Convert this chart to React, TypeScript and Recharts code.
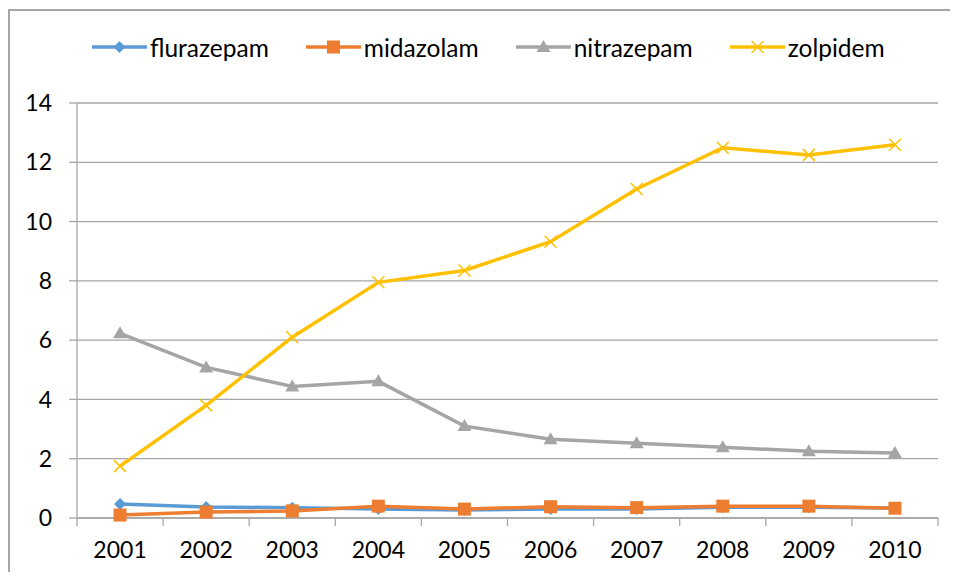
import React from "react";
import { ComposedChart, Line, XAxis, YAxis, CartesianGrid, Legend } from "recharts";

const years = ["2001", "2002", "2003", "2004", "2005", "2006", "2007", "2008", "2009", "2010"];
const flurazepam = [0.47, 0.37, 0.35, 0.3, 0.27, 0.3, 0.3, 0.36, 0.36, 0.34];
const midazolam = [0.1, 0.2, 0.24, 0.4, 0.3, 0.38, 0.35, 0.4, 0.4, 0.33];
const nitrazepam = [6.23, 5.08, 4.44, 4.61, 3.1, 2.66, 2.52, 2.39, 2.25, 2.19];
const zolpidem = [1.75, 3.8, 6.1, 7.95, 8.35, 9.32, 11.1, 12.49, 12.25, 12.59];
const yTicks = [0, 2, 4, 6, 8, 10, 12, 14];

const seriesNames = ["flurazepam", "midazolam", "nitrazepam", "zolpidem"];
const colors: Record<string, string> = {
  flurazepam: "#5b9bd5",
  midazolam: "#ed7d31",
  nitrazepam: "#a5a5a5",
  zolpidem: "#ffc000",
};

const data = years.map((y, i) => ({
  year: y,
  flurazepam: flurazepam[i],
  midazolam: midazolam[i],
  nitrazepam: nitrazepam[i],
  zolpidem: zolpidem[i],
}));

const FONT = "Lato, 'Open Sans', sans-serif";
const GRID = "#a6a6a6";

function Marker({ name, cx, cy }: { name: string; cx: number; cy: number }) {
  const c = colors[name];
  if (name === "flurazepam") {
    const r = 6;
    return <polygon points={`${cx},${cy - r} ${cx + r},${cy} ${cx},${cy + r} ${cx - r},${cy}`} fill={c} />;
  }
  if (name === "midazolam") {
    return <rect x={cx - 6.5} y={cy - 6.5} width={13} height={13} fill={c} />;
  }
  if (name === "nitrazepam") {
    return <polygon points={`${cx},${cy - 7} ${cx + 7},${cy + 5} ${cx - 7},${cy + 5}`} fill={c} />;
  }
  const r = 6;
  return (
    <g stroke={c} strokeWidth={1.5}>
      <line x1={cx - r} y1={cy - r} x2={cx + r} y2={cy + r} />
      <line x1={cx - r} y1={cy + r} x2={cx + r} y2={cy - r} />
    </g>
  );
}

const makeDot = (name: string) => (props: any) => {
  const { cx, cy, index } = props;
  if (cx == null || cy == null) return <g key={`${name}-${index}`} />;
  return (
    <g key={`${name}-${index}`}>
      <Marker name={name} cx={cx} cy={cy} />
    </g>
  );
};

const XTick = (props: any) => {
  const { x, y, payload, index } = props;
  const off = payload && payload.offset ? payload.offset : 43;
  return (
    <g>
      <line x1={x - off} y1={y} x2={x - off} y2={y + 8} stroke={GRID} strokeWidth={1.3} />
      {index === years.length - 1 && (
        <line x1={x + off} y1={y} x2={x + off} y2={y + 8} stroke={GRID} strokeWidth={1.3} />
      )}
      <text x={x} y={y + 40} textAnchor="middle" fill="#000" fontSize={23} fontFamily={FONT}>
        {payload.value}
      </text>
    </g>
  );
};

const LegendContent = () => (
  <div
    style={{
      display: "flex",
      alignItems: "center",
      height: 30,
      paddingLeft: 84,
      fontFamily: FONT,
      fontSize: 24.5,
      color: "#000",
    }}
  >
    {seriesNames.map((n) => (
      <div key={n} style={{ display: "flex", alignItems: "center", marginRight: 37 }}>
        <svg width={55} height={20} style={{ marginRight: 3 }}>
          <line x1={0} y1={10} x2={55} y2={10} stroke={colors[n]} strokeWidth={3.5} />
          <Marker name={n} cx={27.5} cy={10} />
        </svg>
        <span>{n}</span>
      </div>
    ))}
  </div>
);

export default function App() {
  return (
    <div style={{ position: "relative", width: 942, height: 564, overflow: "hidden" }}>
      <div
        style={{
          position: "absolute",
          left: 0,
          top: 1,
          width: 942,
          height: 563,
          borderLeft: "2px solid #a6a6a6",
          borderTop: "2px solid #a6a6a6",
          boxSizing: "border-box",
          pointerEvents: "none",
        }}
      />
      <ComposedChart
        width={942}
        height={564}
        data={data}
        margin={{ top: 65, right: 12, left: 0, bottom: 14 }}
      >
        <Legend
          verticalAlign="top"
          align="left"
          content={<LegendContent />}
          wrapperStyle={{ top: 24, left: 0, width: 942, height: 30 }}
        />
        <CartesianGrid vertical={false} stroke={GRID} strokeWidth={1.3} />
        <XAxis
          dataKey="year"
          scale="band"
          height={40}
          tickLine={false}
          tickSize={0}
          tickMargin={0}
          axisLine={{ stroke: GRID, strokeWidth: 1.3 }}
          tick={<XTick />}
          interval={0}
        />
        <YAxis
          width={69}
          domain={[0, 14]}
          ticks={yTicks}
          interval={0}
          tickSize={8}
          tickMargin={17}
          axisLine={{ stroke: GRID, strokeWidth: 1.3 }}
          tickLine={{ stroke: GRID, strokeWidth: 1.3 }}
          tick={{ fill: "#000", fontSize: 23, fontFamily: FONT }}
        />
        {seriesNames.map((n) => (
          <Line
            key={n}
            type="linear"
            dataKey={n}
            stroke={colors[n]}
            strokeWidth={3.5}
            dot={makeDot(n)}
            activeDot={false}
            isAnimationActive={false}
          />
        ))}
      </ComposedChart>
    </div>
  );
}
